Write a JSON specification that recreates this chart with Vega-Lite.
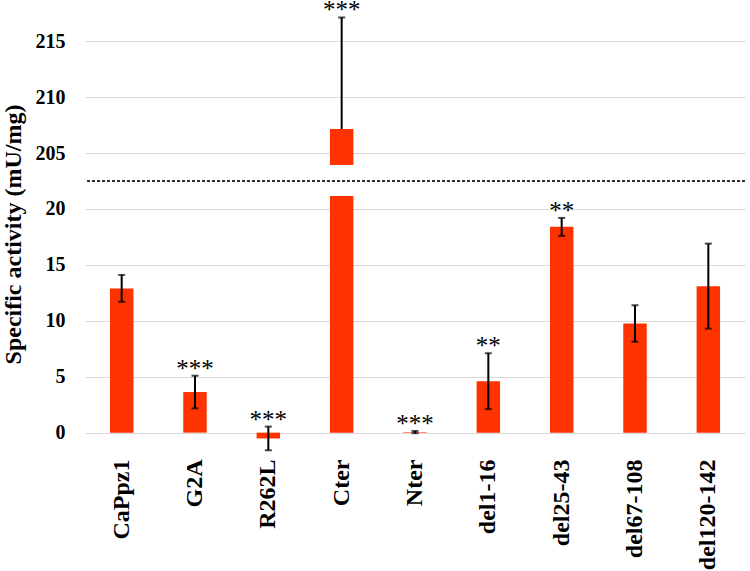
{
  "$schema": "https://vega.github.io/schema/vega-lite/v6.json",
  "autosize": {"type": "none"},
  "padding": {"left": 85, "top": 13, "right": 5, "bottom": 116},
  "width": 660,
  "height": 442,
  "background": "white",
  "config": {
    "view": {"stroke": null},
    "axis": {"labelFont": "Liberation Serif", "titleFont": "Liberation Serif", "labelColor": "black", "titleColor": "black"}
  },
  "data": {
    "values": [
      {"construct": "CaPpz1", "value": 12.88, "lo": 11.7, "hi": 14.1, "sig": ""},
      {"construct": "G2A", "value": 3.63, "lo": 2.17, "hi": 5.09, "sig": "***"},
      {"construct": "R262L", "value": -0.52, "lo": -1.58, "hi": 0.54, "sig": "***"},
      {"construct": "Cter", "value": 207.15, "lo": 207.15, "hi": 217.1, "sig": "***"},
      {"construct": "Nter", "value": 0.05, "lo": -0.05, "hi": 0.15, "sig": "***"},
      {"construct": "del1-16", "value": 4.6, "lo": 2.1, "hi": 7.1, "sig": "**"},
      {"construct": "del25-43", "value": 18.4, "lo": 17.6, "hi": 19.2, "sig": "**"},
      {"construct": "del67-108", "value": 9.76, "lo": 8.13, "hi": 11.39, "sig": ""},
      {"construct": "del120-142", "value": 13.09, "lo": 9.3, "hi": 16.9, "sig": ""}
    ]
  },
  "layer": [
    {
      "mark": {"type": "bar", "color": "#ff3300"},
      "encoding": {
        "x": {
          "field": "construct", "type": "nominal", "sort": null,
          "scale": {"paddingInner": 0.68, "paddingOuter": 0.34},
          "axis": {"title": null, "domain": false, "ticks": false, "grid": false, "labelAngle": -90, "labelFontSize": 24, "labelFontWeight": "bold", "labelPadding": 4}
        },
        "y": {
          "field": "value", "type": "quantitative",
          "scale": {"domain": [-2, 22.5, 202.5, 217.5], "range": [442, 168, 168, 0], "nice": false, "zero": false},
          "axis": {
            "title": "Specific activity (mU/mg)", "titleFontSize": 24, "titleFontWeight": "bold", "titlePadding": 10,
            "values": [0, 5, 10, 15, 20, 205, 210, 215],
            "labelFontSize": 20, "labelFontWeight": "bold", "labelPadding": 20,
            "domain": false, "ticks": false, "grid": true, "gridColor": "#d9d9d9", "gridWidth": 1
          }
        }
      }
    },
    {
      "mark": {"type": "rect", "color": "white"},
      "encoding": {
        "x": {"value": 0},
        "x2": {"value": "width"},
        "y": {"datum": 21.2, "type": "quantitative"},
        "y2": {"datum": 203.9}
      }
    },
    {
      "mark": {"type": "rule", "color": "#333333", "strokeDash": [3, 2], "strokeWidth": 1},
      "encoding": {"y": {"datum": 22.5, "type": "quantitative"}}
    },
    {
      "mark": {"type": "rule", "color": "black", "strokeWidth": 2},
      "encoding": {
        "x": {"field": "construct", "type": "nominal", "sort": null},
        "y": {"field": "lo", "type": "quantitative"}, "y2": {"field": "hi"}
      }
    },
    {
      "mark": {"type": "tick", "color": "black", "size": 7, "thickness": 2},
      "encoding": {
        "x": {"field": "construct", "type": "nominal", "sort": null},
        "y": {"field": "hi", "type": "quantitative"}
      }
    },
    {
      "transform": [{"filter": "datum.lo < datum.value"}],
      "mark": {"type": "tick", "color": "black", "size": 7, "thickness": 2},
      "encoding": {
        "x": {"field": "construct", "type": "nominal", "sort": null},
        "y": {"field": "lo", "type": "quantitative"}
      }
    },
    {
      "mark": {"type": "text", "font": "Liberation Serif", "fontSize": 25, "color": "black", "baseline": "alphabetic", "dy": 1},
      "encoding": {
        "x": {"field": "construct", "type": "nominal", "sort": null},
        "y": {"field": "hi", "type": "quantitative"},
        "text": {"field": "sig"}
      }
    }
  ]
}
